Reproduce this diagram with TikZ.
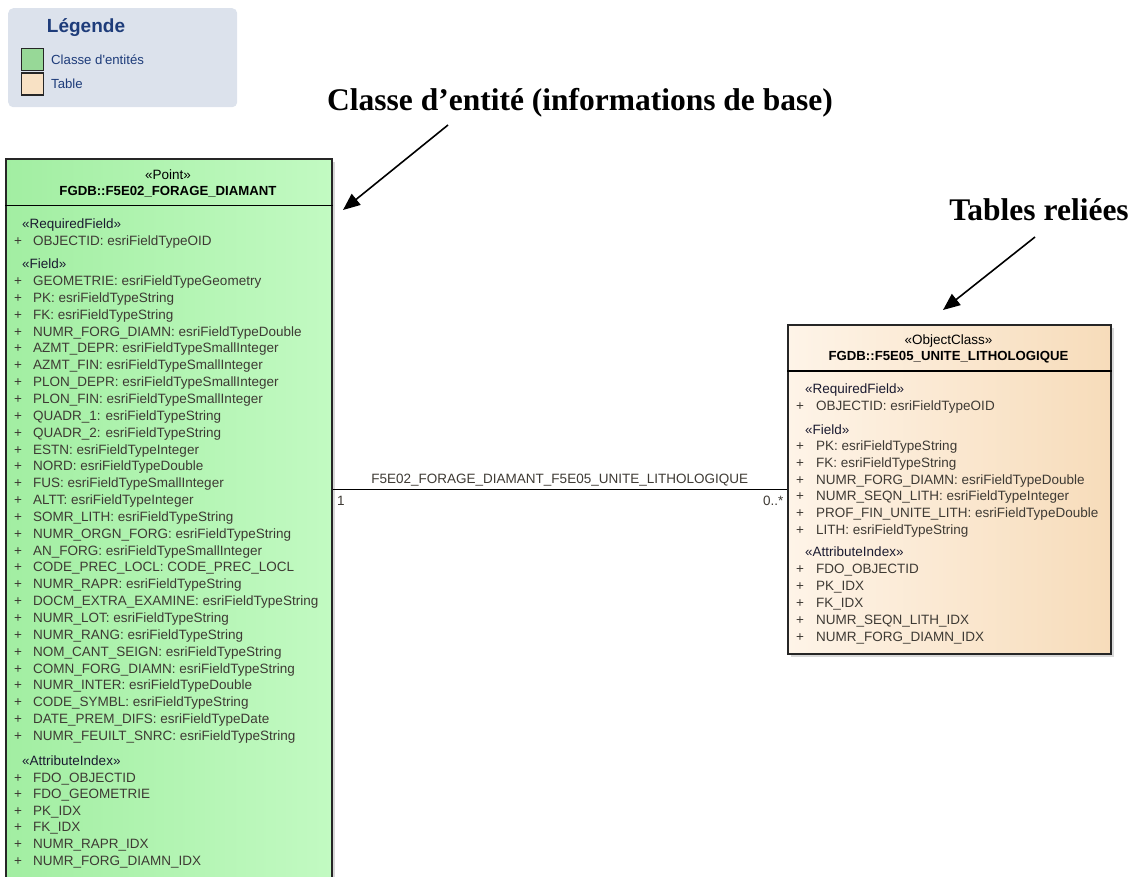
\documentclass[tikz,border=0pt]{standalone}
\usepackage{fontspec}
\newfontfamily\umlfont{Liberation Sans}
\newfontfamily\notefont{Liberation Serif}
\usetikzlibrary{arrows.meta,shadows}

\definecolor{vertgauche}{HTML}{A2EEA2}
\definecolor{vertdroite}{HTML}{C2FAC2}
\definecolor{beigegauche}{HTML}{FEF4E8}
\definecolor{beigedroite}{HTML}{F7DCBA}
\definecolor{fondlegende}{HTML}{DCE2EC}
\definecolor{bleulegende}{HTML}{1E3C7A}
\definecolor{txtchamp}{HTML}{3E3A34}
\definecolor{txtstereo}{HTML}{1A1A30}

\newcommand*\umltaille{\fontsize{13.5}{16}\selectfont}

\tikzset{
    classe/.style={
        draw=black!85,
        line width=1.5pt,
        rectangle,
        anchor=north west,
        inner sep=0pt,
        drop shadow={shadow xshift=3pt,shadow yshift=-3pt,fill=black!30}
    },
    champ/.style={
        anchor=west,
        inner sep=0pt,
        font=\umlfont\umltaille,
        text=txtchamp,
        text height=10pt,
        text depth=0pt
    },
    stereo/.style={champ, text=txtstereo},
    titre/.style={champ, anchor=center, text=black},
    carre/.style={draw=black!85, line width=1.2pt, minimum size=22pt, inner sep=0pt},
    note/.style={font=\notefont\bfseries\fontsize{31.5}{36}\selectfont, inner sep=0pt, anchor=base},
    fleche/.style={line width=1.6pt, -{Triangle[length=17pt,width=14pt]}}
}

\begin{document}
\begin{tikzpicture}[x=1pt,y=-1pt]
    \useasboundingbox (0,0) rectangle (1135,876);

    % Legend in the top left corner.
    \node[fill=fondlegende, rounded corners=5pt, anchor=north west,
          minimum width=229pt, minimum height=99pt] (legende) at (8,8) {};
    \node[font=\umlfont\bfseries\fontsize{19}{22}\selectfont, text=bleulegende,
          inner sep=0pt] (titrelegende) at (86,28) {Légende};
    \node[carre, fill=vertgauche!90!black!95] (carrevert) at (32.5,59.5) {};
    \node[carre, fill=beigedroite!85!white] (carrebeige) at (32.5,84) {};
    \node[champ, font=\umlfont\fontsize{13.2}{15}\selectfont, text=bleulegende]
        (txtvert) at (51,59.5) {Classe d'entités};
    \node[champ, font=\umlfont\fontsize{13.2}{15}\selectfont, text=bleulegende]
        (txtbeige) at (51,83) {Table};

    % Feature class (runs past the bottom edge).
    \node[classe, left color=vertgauche, right color=vertdroite,
          minimum width=326pt, minimum height=760pt] (forage) at (5,158) {};
    \draw[line width=1.2pt] ([yshift=-47.5pt]forage.north west) -- ([yshift=-47.5pt]forage.north east);
    \node[titre] (stforage) at (168,174) {«Point»};
    \node[titre, font=\umlfont\bfseries\fontsize{13.2}{16}\selectfont] (nomforage) at (168,190.5)
        {FGDB::F5E02\_FORAGE\_DIAMANT};

    \node[stereo] (reqg) at (22,223) {«RequiredField»};
    \node[champ] (pobjg) at (14,240.5) {+};
    \node[champ] (objg) at (33,240.5) {OBJECTID: esriFieldTypeOID};
    \node[stereo] (chg) at (22,263) {«Field»};
    \foreach \champ [count=\i from 0] in {
        GEOMETRIE: esriFieldTypeGeometry,
        PK: esriFieldTypeString,
        FK: esriFieldTypeString,
        NUMR\_FORG\_DIAMN: esriFieldTypeDouble,
        AZMT\_DEPR: esriFieldTypeSmallInteger,
        AZMT\_FIN: esriFieldTypeSmallInteger,
        PLON\_DEPR: esriFieldTypeSmallInteger,
        PLON\_FIN: esriFieldTypeSmallInteger,
        QUADR\_1: esriFieldTypeString,
        QUADR\_2: esriFieldTypeString,
        ESTN: esriFieldTypeInteger,
        NORD: esriFieldTypeDouble,
        FUS: esriFieldTypeSmallInteger,
        ALTT: esriFieldTypeInteger,
        SOMR\_LITH: esriFieldTypeString,
        NUMR\_ORGN\_FORG: esriFieldTypeString,
        AN\_FORG: esriFieldTypeSmallInteger,
        CODE\_PREC\_LOCL: CODE\_PREC\_LOCL,
        NUMR\_RAPR: esriFieldTypeString,
        DOCM\_EXTRA\_EXAMINE: esriFieldTypeString,
        NUMR\_LOT: esriFieldTypeString,
        NUMR\_RANG: esriFieldTypeString,
        NOM\_CANT\_SEIGN: esriFieldTypeString,
        COMN\_FORG\_DIAMN: esriFieldTypeString,
        NUMR\_INTER: esriFieldTypeDouble,
        CODE\_SYMBL: esriFieldTypeString,
        DATE\_PREM\_DIFS: esriFieldTypeDate,
        NUMR\_FEUILT\_SNRC: esriFieldTypeString}
    {
        \node[champ] (pg\i) at (14,{280.5+\i*16.85}) {+};
        \node[champ] (fg\i) at (33,{280.5+\i*16.85}) {\champ};
    }
    \node[stereo] (idxg) at (22,760) {«AttributeIndex»};
    \foreach \index [count=\i from 0] in {FDO\_OBJECTID, FDO\_GEOMETRIE, PK\_IDX,
        FK\_IDX, NUMR\_RAPR\_IDX, NUMR\_FORG\_DIAMN\_IDX}
    {
        \node[champ] (pig\i) at (14,{777+\i*16.6}) {+};
        \node[champ] (ig\i) at (33,{777+\i*16.6}) {\index};
    }

    % Related table.
    \node[classe, left color=beigegauche, right color=beigedroite,
          minimum width=323pt, minimum height=329pt] (unite) at (787,324) {};
    \draw[line width=1.2pt] ([yshift=-47pt]unite.north west) -- ([yshift=-47pt]unite.north east);
    \node[titre] (stunite) at (948.5,339) {«ObjectClass»};
    \node[titre, font=\umlfont\bfseries\fontsize{13.2}{16}\selectfont] (nomunite) at (948.5,355)
        {FGDB::F5E05\_UNITE\_LITHOLOGIQUE};

    \node[stereo] (reqd) at (805,388.5) {«RequiredField»};
    \node[champ] (pobjd) at (796,405.7) {+};
    \node[champ] (objd) at (816,405.7) {OBJECTID: esriFieldTypeOID};
    \node[stereo] (chd) at (805,429) {«Field»};
    \foreach \champ [count=\i from 0] in {
        PK: esriFieldTypeString,
        FK: esriFieldTypeString,
        NUMR\_FORG\_DIAMN: esriFieldTypeDouble,
        NUMR\_SEQN\_LITH: esriFieldTypeInteger,
        PROF\_FIN\_UNITE\_LITH: esriFieldTypeDouble,
        LITH: esriFieldTypeString}
    {
        \node[champ] (pd\i) at (796,{445.5+\i*16.75}) {+};
        \node[champ] (fd\i) at (816,{445.5+\i*16.75}) {\champ};
    }
    \node[stereo] (idxd) at (805,551.7) {«AttributeIndex»};
    \foreach \index [count=\i from 0] in {FDO\_OBJECTID, PK\_IDX, FK\_IDX,
        NUMR\_SEQN\_LITH\_IDX, NUMR\_FORG\_DIAMN\_IDX}
    {
        \node[champ] (pid\i) at (796,{568+\i*17.1}) {+};
        \node[champ] (id\i) at (816,{568+\i*17.1}) {\index};
    }

    % Relationship between the two.
    \draw[line width=1.2pt] (unite.west -| forage.east) -- (unite.west)
        node[champ, anchor=south, pos=.5, yshift=5pt] (nomrelation)
            {F5E02\_FORAGE\_DIAMANT\_F5E05\_UNITE\_LITHOLOGIQUE}
        node[champ, pos=0, xshift=4pt, yshift=-11pt] (card1) {1}
        node[champ, pos=1, anchor=east, xshift=-3pt, yshift=-11pt] (cardn) {0..*};

    % Callouts.
    \node[note] (noteclasse) at (580,110) {Classe d’entité (informations de base)};
    \node[note] (notetables) at (1039,220) {Tables reliées};
    \coordinate (depart1) at (448,125);
    \coordinate (pointe1) at (343,210);
    \coordinate (depart2) at (1035,237);
    \coordinate (pointe2) at (943,310);
    \draw[fleche] (depart1) -- (pointe1);
    \draw[fleche] (depart2) -- (pointe2);

\end{tikzpicture}
\end{document}
